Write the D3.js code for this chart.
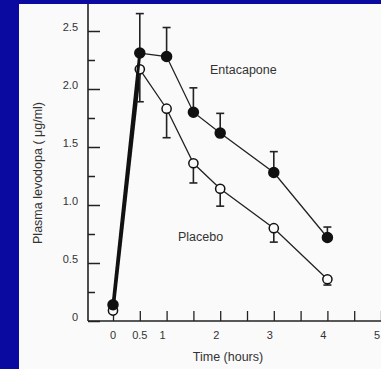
<!DOCTYPE html>
<html>
<head>
<meta charset="utf-8">
<script src="https://cdn.jsdelivr.net/npm/d3@7"></script>
<style>
  body { margin: 0; background: #0a0aa0; }
  svg { display: block; }
  text { font-family: "Liberation Sans", Arial, sans-serif; fill: #222; }
</style>
</head>
<body>
<script>
// plasma levodopa, mean values
var times = [0, 0.5, 1, 1.5, 2, 3, 4];
var entacapone = [0.14, 2.31, 2.28, 1.80, 1.62, 1.28, 0.72];
var entacaponeErr = [0, 0.34, 0.25, 0.21, 0.17, 0.18, 0.09];   // upper bars
var placebo = [0.09, 2.17, 1.83, 1.36, 1.14, 0.80, 0.36];
var placeboErr = [0, 0.28, 0.25, 0.17, 0.15, 0.12, 0.05];      // lower bars
var yTicks = [0, 0.5, 1.0, 1.5, 2.0, 2.5];
var yMinor = [0.25, 0.75, 1.25, 1.75, 2.25];
var xTicks = [0, 0.5, 1, 1.5, 2, 2.5, 3, 3.5, 4, 4.5, 5];
var xLabels = [0, 0.5, 1, 2, 3, 4, 5];

var W = 381, H = 369;
var svg = d3.select("body").append("svg").attr("width", W).attr("height", H);

svg.append("rect").attr("width", W).attr("height", H).attr("fill", "#0a0aa0");
svg.append("rect").attr("x", 19).attr("y", 4).attr("width", W - 19).attr("height", H - 4).attr("fill", "#fafafa");

var x = d3.scaleLinear().domain([0, 5]).range([113, 381]);
var y = d3.scaleLinear().domain([0, 2.5]).range([321, 31]);
var x0 = 88;

// y axis
var yAx = svg.append("g").attr("transform", "translate(" + x0 + ",0)")
  .call(d3.axisLeft(y).tickValues(yTicks).tickSize(-12).tickPadding(10)
    .tickFormat(function (d) { return d === 0 ? "0" : d3.format(".1f")(d); }));
yAx.select(".domain").remove();
yAx.selectAll("line").attr("stroke", "#222").attr("stroke-width", 1.5);
yAx.selectAll("text").attr("dy", "-0.05em").style("font-size", "11px").style("fill", "#333");
svg.append("g").attr("transform", "translate(" + x0 + ",0)")
  .call(d3.axisLeft(y).tickValues(yMinor).tickSize(-7).tickFormat(""))
  .call(function (g) {
    g.select(".domain").remove();
    g.selectAll("line").attr("stroke", "#222").attr("stroke-width", 1.5);
  });
svg.append("line").attr("x1", x0).attr("x2", x0).attr("y1", 4).attr("y2", y(0))
  .attr("stroke", "#222").attr("stroke-width", 1.6);

// x axis
var xAx = svg.append("g").attr("transform", "translate(0," + y(0) + ")")
  .call(d3.axisBottom(x).tickValues(xTicks).tickSize(-10).tickFormat(""));
xAx.select(".domain").remove();
xAx.selectAll("line").attr("stroke", "#222").attr("stroke-width", 1.3);
svg.append("line").attr("x1", x0).attr("x2", W).attr("y1", y(0)).attr("y2", y(0))
  .attr("stroke", "#222").attr("stroke-width", 1.6);
svg.append("g").selectAll("text").data(xLabels).enter().append("text")
  .attr("x", function (d) { return x(d) - (d >= 1 ? 4 : 0); })
  .attr("y", 339)
  .attr("text-anchor", "middle")
  .style("font-size", "11px").style("fill", "#333")
  .text(function (d) { return d; });

svg.append("text").attr("x", 228).attr("y", 361).attr("text-anchor", "middle")
  .style("font-size", "12.5px").style("fill", "#333").text("Time (hours)");
svg.append("text").attr("transform", "translate(42,173) rotate(-90)").attr("text-anchor", "middle")
  .style("font-size", "12.5px").style("fill", "#333").text("Plasma  levodopa ( μg/ml)");

svg.append("text").attr("x", 210).attr("y", 74).style("font-size", "12.5px").style("fill", "#333").text("Entacapone");
svg.append("text").attr("x", 178).attr("y", 241).style("font-size", "12.5px").style("fill", "#333").text("Placebo");

function drawSeries(vals, errs, dir, filled) {
  var pts = times.map(function (t, i) { return { t: t, v: vals[i], e: errs[i] }; });
  var g = svg.append("g");
  // thick rising segment
  g.append("line").attr("x1", x(pts[0].t)).attr("y1", y(pts[0].v))
    .attr("x2", x(pts[1].t)).attr("y2", y(pts[1].v))
    .attr("stroke", "#111").attr("stroke-width", 3);
  g.append("path").datum(pts.slice(1))
    .attr("d", d3.line().x(function (d) { return x(d.t); }).y(function (d) { return y(d.v); }))
    .attr("fill", "none").attr("stroke", "#222").attr("stroke-width", 1.3);
  var eb = g.selectAll(".eb").data(pts.filter(function (d) { return d.e > 0; })).enter().append("g");
  eb.append("line")
    .attr("x1", function (d) { return x(d.t); }).attr("x2", function (d) { return x(d.t); })
    .attr("y1", function (d) { return y(d.v); }).attr("y2", function (d) { return y(d.v + dir * d.e); })
    .attr("stroke", "#222").attr("stroke-width", 1.6);
  eb.append("line")
    .attr("x1", function (d) { return x(d.t) - 4; }).attr("x2", function (d) { return x(d.t) + 4; })
    .attr("y1", function (d) { return y(d.v + dir * d.e); }).attr("y2", function (d) { return y(d.v + dir * d.e); })
    .attr("stroke", "#222").attr("stroke-width", 1.6);
  g.selectAll("circle").data(pts).enter().append("circle")
    .attr("cx", function (d) { return x(d.t); }).attr("cy", function (d) { return y(d.v); })
    .attr("r", filled ? 5 : 4.6)
    .attr("fill", filled ? "#111" : "#fafafa").attr("stroke", "#111").attr("stroke-width", 1.5);
}

drawSeries(placebo, placeboErr, -1, false);
drawSeries(entacapone, entacaponeErr, 1, true);
</script>
</body>
</html>
